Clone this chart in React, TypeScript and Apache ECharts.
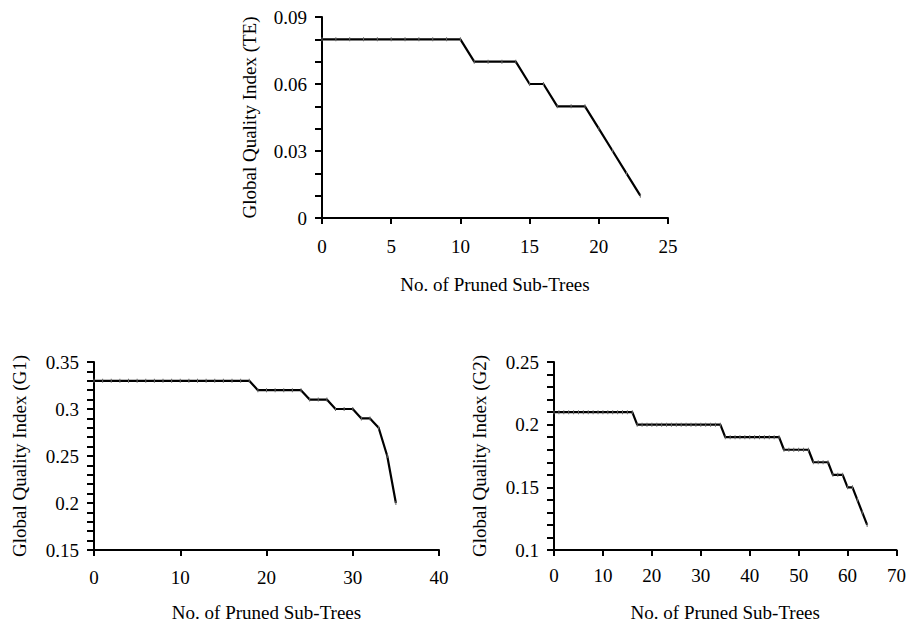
import React, { useEffect, useRef } from "react";
import * as echarts from "echarts";

// Global Quality Index (TE) vs number of pruned sub-trees (x = 0..23)
const teValues = [
  0.08, 0.08, 0.08, 0.08, 0.08, 0.08, 0.08, 0.08, 0.08, 0.08, 0.08,
  0.07, 0.07, 0.07, 0.07,
  0.06, 0.06,
  0.05, 0.05, 0.05,
  0.04, 0.03, 0.02, 0.01,
];

// Global Quality Index (G1) (x = 0..35)
const g1Values = [
  0.33, 0.33, 0.33, 0.33, 0.33, 0.33, 0.33, 0.33, 0.33, 0.33,
  0.33, 0.33, 0.33, 0.33, 0.33, 0.33, 0.33, 0.33, 0.33,
  0.32, 0.32, 0.32, 0.32, 0.32, 0.32,
  0.31, 0.31, 0.31,
  0.30, 0.30, 0.30,
  0.29, 0.29,
  0.28, 0.25, 0.20,
];

// Global Quality Index (G2) (x = 0..64)
const g2Values = [
  0.21, 0.21, 0.21, 0.21, 0.21, 0.21, 0.21, 0.21, 0.21, 0.21,
  0.21, 0.21, 0.21, 0.21, 0.21, 0.21, 0.21,
  0.20, 0.20, 0.20, 0.20, 0.20, 0.20, 0.20, 0.20, 0.20,
  0.20, 0.20, 0.20, 0.20, 0.20, 0.20, 0.20, 0.20, 0.20,
  0.19, 0.19, 0.19, 0.19, 0.19, 0.19, 0.19, 0.19, 0.19, 0.19, 0.19, 0.19,
  0.18, 0.18, 0.18, 0.18, 0.18, 0.18,
  0.17, 0.17, 0.17, 0.17,
  0.16, 0.16, 0.16,
  0.15, 0.15,
  0.14, 0.13, 0.12,
];

const xAxisName = "No. of Pruned Sub-Trees";
const yAxisNames = [
  "Global Quality Index (TE)",
  "Global Quality Index (G1)",
  "Global Quality Index (G2)",
];

const FONT = "'Liberation Serif', 'Times New Roman', serif";
const FS = 19;

const toPairs = (vals: number[]) => vals.map((v, i) => [i, v]);

export default function App() {
  const ref = useRef<HTMLDivElement>(null);

  useEffect(() => {
    if (!ref.current) return;
    const chart = echarts.init(ref.current, undefined, { renderer: "svg" });

    const axisLine = { show: true, lineStyle: { color: "#000", width: 2 } };
    const labelStyle = { color: "#000", fontFamily: FONT, fontSize: FS };

    const mkX = (gridIndex: number, max: number, interval: number, margin: number, nameGap: number) => ({
      type: "value",
      gridIndex,
      min: 0,
      max,
      interval,
      axisLine,
      axisTick: { show: true, inside: false, length: 6, lineStyle: { color: "#000", width: 2 } },
      axisLabel: { ...labelStyle, margin },
      splitLine: { show: false },
      name: xAxisName,
      nameLocation: "middle",
      nameGap,
      nameTextStyle: labelStyle,
    });

    const mkY = (gridIndex: number, min: number, max: number, interval: number, minorSplit: number, nameGap: number) => ({
      type: "value",
      gridIndex,
      min,
      max,
      interval,
      axisLine,
      axisTick: { show: true, inside: false, length: 7, lineStyle: { color: "#000", width: 2 } },
      minorTick: { show: true, splitNumber: minorSplit, length: 7, lineStyle: { color: "#000", width: 2 } },
      axisLabel: {
        ...labelStyle,
        margin: 15,
        formatter: (v: number) => String(+v.toFixed(2)),
      },
      splitLine: { show: false },
      minorSplitLine: { show: false },
      name: yAxisNames[gridIndex],
      nameLocation: "middle",
      nameGap,
      nameTextStyle: labelStyle,
    });

    const mkSeries = (idx: number, vals: number[]) => ({
      type: "line",
      xAxisIndex: idx,
      yAxisIndex: idx,
      data: toPairs(vals),
      symbol: "rect",
      symbolSize: [1, 4],
      itemStyle: { color: "#666" },
      lineStyle: { color: "#000", width: 2.2 },
      silent: true,
    });

    chart.setOption({
      animation: false,
      backgroundColor: "#fff",
      grid: [
        { left: 322, top: 17, width: 346, height: 201 },
        { left: 94, top: 362, width: 345, height: 189 },
        { left: 554, top: 362, width: 345, height: 189 },
      ],
      xAxis: [mkX(0, 25, 5, 19, 57), mkX(1, 40, 10, 18, 53), mkX(2, 70, 10, 16, 53)],
      yAxis: [
        mkY(0, 0, 0.09, 0.03, 3, 63),
        mkY(1, 0.15, 0.35, 0.05, 5, 65),
        mkY(2, 0.1, 0.25, 0.05, 5, 65),
      ],
      series: [mkSeries(0, teValues), mkSeries(1, g1Values), mkSeries(2, g2Values)],
    });

    return () => chart.dispose();
  }, []);

  return (
    <div
      ref={ref}
      style={{ position: "fixed", left: 0, top: 0, width: 909, height: 623, background: "#fff" }}
    />
  );
}
